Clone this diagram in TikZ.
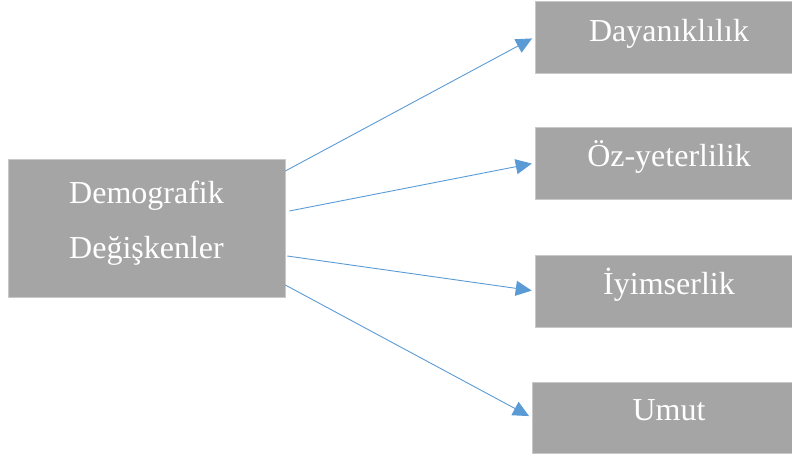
\documentclass[tikz,border=0pt]{standalone}
\usepackage{fontspec}
\setmainfont{Liberation Serif}
\usetikzlibrary{arrows.meta,calc}
\definecolor{boxgray}{HTML}{A5A5A5}
\definecolor{boxedge}{HTML}{C8C8C8}
\definecolor{arrowblue}{HTML}{5B9BD5}
\begin{document}
\begin{tikzpicture}[x=1pt,y=-1pt,
  box/.style={draw=boxedge,line width=0.6pt,fill=boxgray,inner sep=0pt},
  lbl/.style={text=white,font=\fontsize{32}{55}\selectfont,anchor=base,inner sep=0pt},
  conn/.style={draw=arrowblue,line width=0.9pt,-{Triangle[length=16pt,width=15pt]},shorten >=3pt}]
\useasboundingbox (0,0) rectangle (792,459);
\begin{scope}
\clip (0,0) rectangle (792,459);
\node[box,minimum width=277pt,minimum height=138pt] (L) at (146.5,228) {};
\node[box,minimum width=268pt,minimum height=72pt] (D) at (669,37) {};
\node[box,minimum width=268pt,minimum height=72pt] (O) at (669,163) {};
\node[box,minimum width=268pt,minimum height=72pt] (I) at (669,291) {};
\node[box,minimum width=271pt,minimum height=71pt] (U) at (667.5,417.5) {};
\end{scope}
\node[lbl] (Lt1) at (146.5,203) {Demografik};
\node[lbl] (Lt2) at (146.5,258) {Değişkenler};
\node[lbl] (Dt) at (669,41) {Dayanıklılık};
\node[lbl] (Ot) at (669,166) {Öz-yeterlilik};
\node[lbl] (It) at (669,294) {İyimserlik};
\node[lbl] (Ut) at (669,420) {Umut};
\coordinate (s1) at ($(L.east)+(0,-57)$);
\coordinate (s2) at ($(L.east)+(4,-17)$);
\coordinate (s3) at ($(L.east)+(2,28)$);
\coordinate (s4) at ($(L.east)+(0,57)$);
\draw[conn] (s1) -- (D.west);
\draw[conn] (s2) -- (O.west);
\draw[conn] (s3) -- (I.west);
\draw[conn] (s4) -- (U.west);
\end{tikzpicture}
\end{document}
